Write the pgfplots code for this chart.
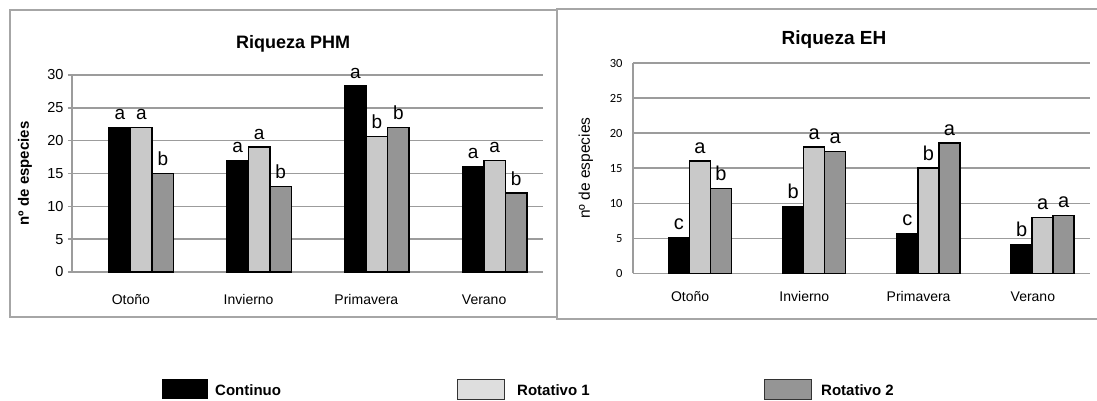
\documentclass[border=0pt]{standalone}
\usepackage{pgfplots}
\pgfplotsset{compat=1.18}
\usepackage{pgfplotstable}
\usepackage{fontspec}
\setmainfont{Liberation Sans}
\newfontfamily\carlito{Carlito}
\definecolor{gridgray}{HTML}{9C9C9C}
\definecolor{framegray}{HTML}{A6A6A6}
\definecolor{lightbar}{HTML}{C9C9C9}
\definecolor{darkbar}{HTML}{959595}
\definecolor{legendlight}{HTML}{DEDEDE}

\pgfplotstableread{
x y l
0.09 22.0 a
1.09 17.0 a
2.09 28.3 a
3.09 16.1 a
}\phmA
\pgfplotstableread{
x y l
0.09 22.0 a
1.09 19.0 a
2.09 20.6 b
3.09 17.0 a
}\phmB
\pgfplotstableread{
x y l
0.09 15.0 b
1.09 13.0 b
2.09 22.0 b
3.09 12.0 b
}\phmC
\pgfplotstableread{
x y l
0.085 5.1 c
1.085 9.5 b
2.085 5.7 c
3.085 4.1 b
}\ehA
\pgfplotstableread{
x y l
0.085 16.0 a
1.085 18.0 a
2.085 15.0 b
3.085 8.0 a
}\ehB
\pgfplotstableread{
x y l
0.085 12.1 b
1.085 17.4 a
2.085 18.6 a
3.085 8.3 a
}\ehC

\pgfplotsset{
  commonbars/.style={
    scale only axis, anchor=south west, clip=false,
    xmin=-0.5, xmax=3.5, ymin=0, ymax=30,
    ytick={0,5,...,30}, xtick={0,1,2,3},
    xticklabels={Otoño,Invierno,Primavera,Verano},
    xticklabel style={font=\fontsize{14}{14}\selectfont, anchor=north, inner sep=0pt, text height=10.5pt, text depth=3pt, yshift=-17.5pt},
    /pgf/number format/assume math mode=true,
    axis x line=bottom, axis y line=left,
    axis line style={-, gridgray},
    ymajorgrids, grid style={gridgray},
    xtick style={draw=none},
    ybar=0pt,
    point meta=explicit symbolic,
    nodes near coords,
    every node near coord/.append style={inner sep=0pt, anchor=south, yshift=7pt, text=black},
  },
  blackbar/.style={fill=black, draw=black, line width=1.5pt},
  lightb/.style={fill=lightbar, draw=black, line width=1.5pt},
  darkb/.style={fill=darkbar, draw=black, line width=1.5pt},
}

\begin{document}
\begin{tikzpicture}
\path[use as bounding box] (0pt,0pt) rectangle (1097pt,401pt);
% frames
\draw[framegray, line width=1.5pt] (10pt,391pt) rectangle (557pt,84pt);
\draw[framegray, line width=1.5pt] (1097pt,392pt) -- (557pt,392pt) -- (557pt,82pt) -- (1097pt,82pt);

\begin{axis}[commonbars,
  at={(72pt,129pt)}, width=471pt, height=197pt,
  bar width=21.5pt,
  axis line style={line width=1.4pt},
  grid style={line width=1.4pt},
  tick align=outside, major tick length=4pt,
  ytick style={gridgray, line width=1.4pt},
  yticklabel style={font=\fontsize{14.5}{14.5}\selectfont, xshift=-1pt},
  every node near coord/.append style={font=\fontsize{19}{19}\selectfont},
  title={\bfseries Riqueza PHM},
  title style={font=\fontsize{18}{18}\selectfont, at={(0.4694,1.0)}, anchor=center, yshift=25.5pt},
  ylabel={\bfseries nº de especies},
  ylabel style={font=\fontsize{15}{15}\selectfont, at={(-0.1,0.5)}, anchor=center},
]
\addplot[blackbar] table[x=x,y=y,meta=l] {\phmA};
\addplot[lightb] table[x=x,y=y,meta=l] {\phmB};
\addplot[darkb] table[x=x,y=y,meta=l] {\phmC};
\end{axis}

\begin{axis}[commonbars,
  at={(633pt,127.5pt)}, width=457pt, height=210.5pt,
  bar width=21pt,
  axis line style={line width=1.6pt},
  grid style={line width=1.6pt},
  major tick length=0pt,
  yticklabel style={font=\carlito\fontsize{12.5}{12.5}\selectfont, xshift=-7pt},
  every node near coord/.append style={font=\fontsize{20}{20}\selectfont},
  title={\bfseries Riqueza EH},
  title style={font=\fontsize{19}{19}\selectfont, at={(0.4398,1.0)}, anchor=center, yshift=17pt},
  ylabel={nº de especies},
  ylabel style={font=\fontsize{15.5}{15.5}\selectfont, at={(-0.103,0.5)}, anchor=center},
]
\addplot[blackbar] table[x=x,y=y,meta=l] {\ehA};
\addplot[lightb] table[x=x,y=y,meta=l] {\ehB};
\addplot[darkb] table[x=x,y=y,meta=l] {\ehC};
\end{axis}

% legend
\fill[black] (162pt,2pt) rectangle (208pt,22pt);
\draw[fill=legendlight, draw=black!80, line width=0.8pt] (457pt,2pt) rectangle (504pt,22pt);
\draw[fill=darkbar, draw=black!80, line width=0.8pt] (764pt,2pt) rectangle (811pt,22pt);
\node[anchor=west, inner sep=0pt, font=\bfseries\fontsize{15}{15}\selectfont] at (215pt,11pt) {Continuo};
\node[anchor=west, inner sep=0pt, font=\bfseries\fontsize{15}{15}\selectfont] at (517pt,11pt) {Rotativo 1};
\node[anchor=west, inner sep=0pt, font=\bfseries\fontsize{15}{15}\selectfont] at (821pt,11pt) {Rotativo 2};
\end{tikzpicture}
\end{document}
